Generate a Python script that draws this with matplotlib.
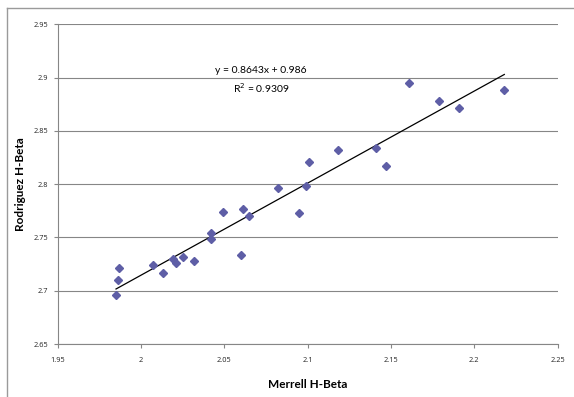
import matplotlib
matplotlib.use("Agg")
import matplotlib.pyplot as plt
from matplotlib.lines import Line2D
from matplotlib.ticker import FuncFormatter, MultipleLocator
import numpy as np

plt.rcParams["font.family"] = ["Lato", "DejaVu Sans"]

# H-Beta readings, one pair per star
merrell = [1.985, 1.986, 1.987, 2.007, 2.013, 2.019, 2.021, 2.025, 2.032,
           2.042, 2.042, 2.049, 2.060, 2.061, 2.065, 2.082, 2.095, 2.099,
           2.101, 2.118, 2.141, 2.147, 2.161, 2.179, 2.191, 2.218]
rodriguez = [2.696, 2.710, 2.721, 2.724, 2.717, 2.730, 2.726, 2.732, 2.728,
             2.754, 2.749, 2.774, 2.734, 2.777, 2.770, 2.796, 2.773, 2.798,
             2.821, 2.832, 2.834, 2.817, 2.895, 2.878, 2.872, 2.888]

# linear trendline
slope = 0.8643
intercept = 0.986
r_squared = 0.9309

grey = "#868686"

fig = plt.figure(figsize=(5.74, 3.97), dpi=100)
ax = fig.add_axes([0.1005, 0.1335, 0.871, 0.805])

ax.plot(merrell, rodriguez, linestyle="none", marker="D", markersize=4.0,
        color="#5E5EA6", zorder=3)

xs = np.array([min(merrell), max(merrell)])
ax.plot(xs, slope * xs + intercept, color="black", linewidth=0.9, zorder=2)

ax.text(2.072, 2.907, f"y = {slope}x + {intercept}", ha="center", va="center", fontsize=7.5)
ax.text(2.072, 2.890, f"R$^2$ = {r_squared}", ha="center", va="center", fontsize=7.5)

ax.set_xlim(1.95, 2.25)
ax.set_ylim(2.65, 2.95)
ax.xaxis.set_major_locator(MultipleLocator(0.05))
ax.yaxis.set_major_locator(MultipleLocator(0.05))
fmt = FuncFormatter(lambda v, pos: f"{v:g}")
ax.xaxis.set_major_formatter(fmt)
ax.yaxis.set_major_formatter(fmt)

ax.grid(axis="y", color=grey, linewidth=0.8)
ax.set_axisbelow(True)
for side in ["top", "right"]:
    ax.spines[side].set_visible(False)
for side in ["left", "bottom"]:
    ax.spines[side].set_color(grey)
    ax.spines[side].set_linewidth(0.8)
ax.tick_params(colors=grey, labelcolor="#222222", labelsize=5.3, length=3, width=0.8)
ax.tick_params(axis="x", pad=6)
ax.tick_params(axis="y", pad=4)
for lbl in ax.get_xticklabels() + ax.get_yticklabels():
    lbl.set_family(["Open Sans", "DejaVu Sans"])

ax.set_xlabel("Merrell H-Beta", fontsize=8.5, fontweight="bold", labelpad=11)
ax.set_ylabel("Rodriguez H-Beta", fontsize=8.5, fontweight="bold", labelpad=5)

# chart frame (runs off the right and bottom edges)
fig.add_artist(Line2D([6.5 / 574, 6.5 / 574], [0, 1 - 7.5 / 397], color="#9a9a9a", linewidth=1))
fig.add_artist(Line2D([6.5 / 574, 1], [1 - 7.5 / 397, 1 - 7.5 / 397], color="#9a9a9a", linewidth=1))

fig.savefig("out.png", dpi=100, facecolor="white")
